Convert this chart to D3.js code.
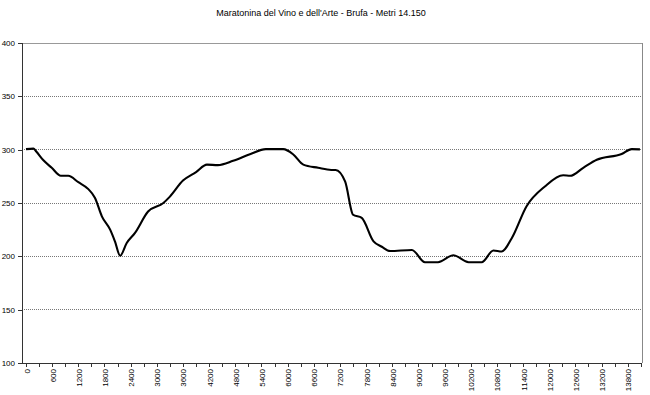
<!DOCTYPE html>
<html><head><meta charset="utf-8">
<script src="https://cdn.jsdelivr.net/npm/d3@7"></script>
<style>body{margin:0;background:#fff}svg{display:block;font-family:"Liberation Sans",Arial,sans-serif}</style>
</head><body><svg id="c" width="650" height="395"></svg>
<script>
const title = "Maratonina del Vino e dell'Arte - Brufa - Metri 14.150";
const distances = [0,170,230,400,590,800,970,1200,1430,1580,1740,1930,2040,2160,2310,2500,2800,3150,3300,3600,3900,4150,4400,4750,5150,5500,5900,6130,6360,6700,7000,7100,7320,7500,7700,7970,8160,8350,8850,9150,9450,9800,10150,10450,10720,10910,11140,11480,11900,12320,12480,12780,13090,13660,13890,14080];
const elevations = [300.5,301,298.5,290,283,275.5,275.5,269.5,263,255,237.5,225,214,200.5,212.5,222,242,250,256,271,279,286,285.5,289.5,296,300.5,300.5,295.5,286,283,281,281,270,239,236,214,209,205,206,194.5,194.5,201,194.5,194.5,205.5,204.5,217,247,265.5,276,275.5,283,290.5,296,300.5,300.3];
const yTicks = [100,150,200,250,300,350,400];
const xLabels = d3.range(0, 14000, 600);
const xMinor = d3.range(0, 14200, 300);

const svg = d3.select("#c");
const L = 22, R = 642, T = 43, B = 363;
const x = d3.scaleLinear().domain([0, 14150]).range([26, 643]);
const y = d3.scaleLinear().domain([100, 400]).range([B, T]);

svg.append("text").attr("x", 321).attr("y", 16).attr("text-anchor", "middle")
  .attr("font-size", 9).attr("fill", "#000").text(title);

// gridlines
svg.append("g").selectAll("line").data(yTicks.filter(v => v > 100 && v < 400)).join("line")
  .attr("x1", L).attr("x2", R).attr("y1", d => y(d)).attr("y2", d => y(d))
  .attr("stroke", "#777").attr("stroke-width", 1).attr("stroke-dasharray", "1,1")
  .attr("shape-rendering", "crispEdges");
// top and right border
svg.append("line").attr("x1", L).attr("x2", R).attr("y1", y(400)).attr("y2", y(400))
  .attr("stroke", "#999").attr("shape-rendering", "crispEdges");
svg.append("line").attr("x1", R).attr("x2", R).attr("y1", T).attr("y2", B)
  .attr("stroke", "#888").attr("shape-rendering", "crispEdges");

// y axis
const yAxis = d3.axisLeft(y).tickValues(yTicks).tickSize(4).tickPadding(3).tickFormat(d3.format("d"));
const gy = svg.append("g").attr("transform", `translate(${L},0)`).call(yAxis);
gy.select(".domain").attr("stroke", "#333").attr("d", `M0,${T}V${B}`);
gy.selectAll(".tick line").attr("stroke", "#333");
gy.selectAll(".tick text").attr("font-size", 8).attr("fill", "#000").attr("font-family", "Liberation Sans, Arial, sans-serif");
gy.attr("shape-rendering", "crispEdges");

// x axis
const xAxisMinor = d3.axisBottom(x).tickValues(xMinor).tickSize(4).tickFormat("");
const gx = svg.append("g").attr("transform", `translate(0,${B})`).call(xAxisMinor);
gx.select(".domain").attr("stroke", "#333").attr("d", `M${L},0H${R}`);
gx.selectAll(".tick line").attr("stroke", "#333");
gx.attr("shape-rendering", "crispEdges");

const xAxisLab = d3.axisBottom(x).tickValues(xLabels).tickSize(0).tickFormat(d3.format("d"));
const gl = svg.append("g").attr("transform", `translate(0,${B})`).call(xAxisLab);
gl.select(".domain").remove();
gl.selectAll(".tick text").attr("font-size", 8).attr("fill", "#000")
  .attr("font-family", "Liberation Sans, Arial, sans-serif")
  .attr("text-anchor", "end").attr("dy", null).attr("y", 0)
  .attr("transform", "translate(3,6) rotate(-90)");

// line
const data = distances.map((d, i) => [d, elevations[i]]);
svg.append("path").datum(data)
  .attr("fill", "none").attr("stroke", "#000").attr("stroke-width", 2.1)
  .attr("stroke-linejoin", "round")
  .attr("d", d3.line().x(d => x(d[0])).y(d => y(d[1])).curve(d3.curveMonotoneX));
</script></body></html>
